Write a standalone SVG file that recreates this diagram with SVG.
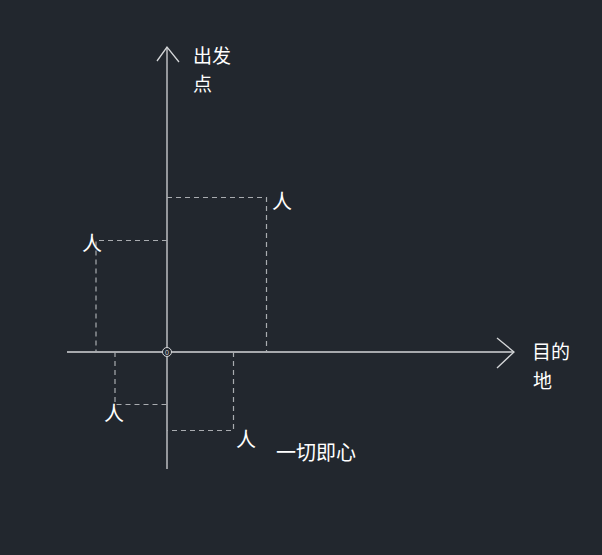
<svg xmlns="http://www.w3.org/2000/svg" width="602" height="555" viewBox="0 0 602 555">
<style>
.axis{stroke:#d4d6d8;stroke-width:1.3;fill:none}
.dash{stroke:#a9acb0;stroke-width:1.2;fill:none;stroke-dasharray:5 4}
.lbl{fill:#ffffff;font-family:"Noto Sans CJK SC","Noto Sans",sans-serif;font-size:20px}
.sm{font-size:19px}
</style>
<rect width="602" height="555" fill="#22272e"/>
<g id="connectors">
<path class="axis" d="M67,352 H514"/>
<path class="axis" d="M497,338 L514,352 L497,368"/>
<path class="axis" d="M167,469 V47"/>
<path class="axis" d="M157,61 L167,47 L179,62"/>
<path class="dash" d="M167,197.5 H266.5 V352"/>
<path class="dash" d="M167,240.5 H96 V352"/>
<path class="dash" d="M115,352 V404.5 H167"/>
<path class="dash" d="M233.5,352 V430.5 H167"/>
</g>
<g id="origin">
<circle cx="167" cy="352" r="4.5" fill="#22272e" stroke="#d4d6d8" stroke-width="1"/>
<text x="167" y="354.5" text-anchor="middle" font-family="Liberation Sans,sans-serif" font-size="7" fill="#d4d6d8">0</text>
</g>
<g id="start"><text class="lbl sm" x="193" y="63">出发</text><text class="lbl sm" x="193" y="91">点</text></g>
<g id="dest"><text class="lbl sm" x="532" y="359">目的</text><text class="lbl sm" x="533" y="388">地</text></g>
<g id="p1"><text class="lbl" x="272" y="209">人</text></g>
<g id="p2"><text class="lbl" x="82" y="251">人</text></g>
<g id="p3"><text class="lbl" x="104" y="421">人</text></g>
<g id="p4"><text class="lbl" x="236" y="447">人</text></g>
<g id="caption"><text class="lbl" x="276" y="460" font-size="21">一切即心</text></g>
</svg>
